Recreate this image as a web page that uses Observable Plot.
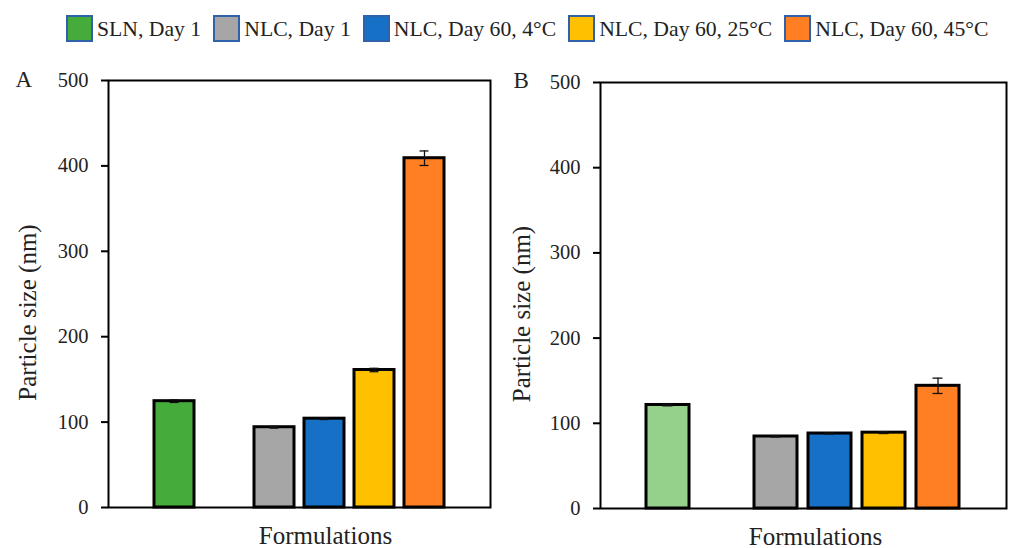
<!DOCTYPE html>
<html>
<head>
<meta charset="utf-8">
<script src="https://cdn.jsdelivr.net/npm/d3@7"></script>
<script src="https://cdn.jsdelivr.net/npm/@observablehq/plot@0.6"></script>
<style>
  html, body { margin: 0; padding: 0; background: #fff; }
  body { width: 1009px; height: 548px; position: relative; overflow: hidden; font-family: 'Liberation Serif', serif; }
  #legend { position: absolute; left: 66px; top: 14px; display: flex; align-items: center; }
  .item { display: flex; align-items: center; margin-right: 12px; }
  .sw { width: 27px; height: 27px; box-sizing: border-box; border: 2px solid #2F62A8; margin-right: 4px; }
  .lab { font-size: 21.7px; color: #222; padding-top: 3px; white-space: nowrap; }
  #panelA { position: absolute; left: 0; top: 60px; }
  #panelB { position: absolute; left: 500px; top: 60px; }
  #panelA svg, #panelB svg, #panelA svg text, #panelB svg text { font-family: 'Liberation Serif', serif !important; }
</style>
</head>
<body>
<div id="legend"></div>
<div id="panelA"></div>
<div id="panelB"></div>
<script>
const categories = ["SLN, Day 1", "NLC, Day 1", "NLC, Day 60, 4°C", "NLC, Day 60, 25°C", "NLC, Day 60, 45°C"];
const sizeA = [124.5, 94, 104, 161, 409];
const errA = [1.5, 1, 1, 2, 8.5];
const sizeB = [121.5, 84.5, 88, 89, 144];
const errB = [1, 0.5, 0.5, 1, 9];
const colorsA = ["#45AB3B", "#A6A6A6", "#1670C6", "#FFC000", "#FF7F22"];
const colorsB = ["#95D18B", "#A6A6A6", "#1670C6", "#FFC000", "#FF7F22"];
const legendColors = colorsA;
const yTicks = [0, 100, 200, 300, 400, 500];
const yTitle = "Particle size (nm)";
const xTitle = "Formulations";

// legend
const legend = document.getElementById("legend");
categories.forEach((c, i) => {
  const it = document.createElement("div");
  it.className = "item";
  const sw = document.createElement("div");
  sw.className = "sw";
  sw.style.background = legendColors[i];
  const lab = document.createElement("span");
  lab.className = "lab";
  lab.textContent = c;
  it.appendChild(sw); it.appendChild(lab);
  legend.appendChild(it);
});

// x domain with an empty slot between SLN and NLC groups
const xDomain = [categories[0], " ", ...categories.slice(1)];

function panel(size, err, colors, letter, o) {
  const data = categories.map((c, i) => ({c, v: size[i], e: err[i], col: colors[i]}));
  return Plot.plot({
    width: o.width, height: 488,
    marginLeft: o.ml, marginRight: o.mr, marginTop: o.mt, marginBottom: o.mb,
    style: {fontFamily: "'Liberation Serif', serif", fontSize: "20px", color: "#222", background: "#fff", overflow: "visible"},
    x: {domain: xDomain, paddingInner: 0.2, paddingOuter: 0.85, align: 0.5, axis: null},
    y: {domain: [0, 500], axis: null},
    color: {type: "identity"},
    marks: [
      Plot.barY(data, {x: "c", y: "v", fill: d => d.col, stroke: "#000", strokeWidth: 3}),
      Plot.ruleX(data, {x: "c", y1: d => d.v - d.e, y2: d => d.v + d.e, stroke: "#111", strokeWidth: 1.3}),
      Plot.tickY(data, {x: "c", y: d => d.v + d.e, stroke: "#111", strokeWidth: 1.3, insetLeft: o.cap, insetRight: o.cap}),
      Plot.tickY(data, {x: "c", y: d => d.v - d.e, stroke: "#111", strokeWidth: 1.3, insetLeft: o.cap, insetRight: o.cap}),
      Plot.axisY({ticks: yTicks, tickSize: 7, tickPadding: 13, strokeWidth: 2, stroke: "#000", fontSize: 20.5, fill: "#222", label: null}),
      Plot.frame({stroke: "#000", strokeWidth: 2}),
      Plot.text([yTitle], {frameAnchor: "left", rotate: -90, dx: o.ytdx, dy: o.ytdy, fontSize: 25, lineAnchor: "bottom", textAnchor: "middle", fill: "#222"}),
      Plot.text([xTitle], {frameAnchor: "bottom", dx: o.xtdx, dy: 36, fontSize: 25, lineAnchor: "bottom", textAnchor: "middle", fill: "#222"}),
      Plot.text([letter], {frameAnchor: "top-left", dx: o.ldx, dy: o.ldy, fontSize: 23, lineAnchor: "bottom", textAnchor: "start", fill: "#222"})
    ]
  });
}

document.getElementById("panelA").appendChild(panel(sizeA, errA, colorsA, "A",
  {width: 500, ml: 108, mr: 10, mt: 20, mb: 41, cap: 15.5, ytdx: -73, ytdy: 18.5, xtdx: 26, ldx: -93, ldy: 6}));
document.getElementById("panelB").appendChild(panel(sizeB, errB, colorsB, "B",
  {width: 509, ml: 100, mr: 3, mt: 22, mb: 40, cap: 16.5, ytdx: -71, ytdy: 18.5, xtdx: 12, ldx: -87, ldy: 5}));
</script>
</body>
</html>
